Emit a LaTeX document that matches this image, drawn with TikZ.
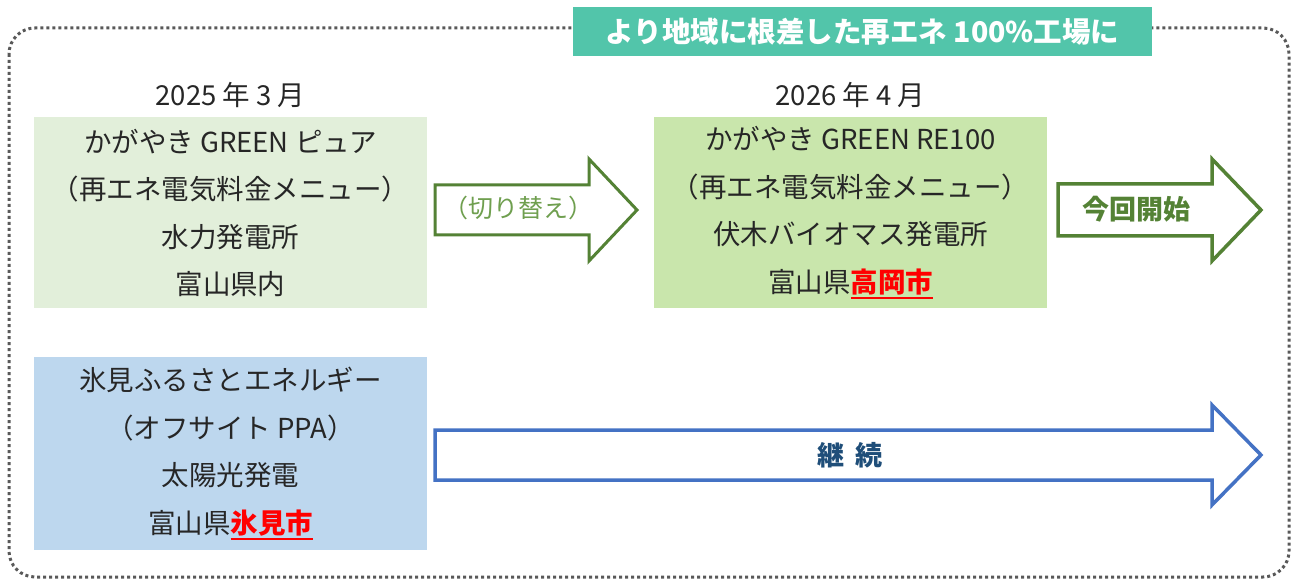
\documentclass[tikz,border=0pt]{standalone}
\usepackage{fontspec}
\setmainfont{Noto Sans CJK JP}
\definecolor{boxA}{HTML}{E2EFDA}
\definecolor{boxB}{HTML}{C9E6AC}
\definecolor{boxC}{HTML}{BDD7EE}
\definecolor{teal}{HTML}{52C5AA}
\definecolor{agreen}{HTML}{548235}
\definecolor{lgreen}{HTML}{6F9F4F}
\definecolor{ablue}{HTML}{4472C4}
\definecolor{dblue}{HTML}{1F4E79}
\definecolor{frame}{HTML}{595959}
\newcommand{\redul}[1]{\textcolor{red}{\bfseries\setbox0\hbox{#1}\rlap{\rule[-7pt]{\wd0}{2.2pt}}\box0}}
\tikzset{
  infobox/.style={inner sep=0pt, align=center, font=\fontsize{27.5}{47.5}\selectfont, text=black!85},
  datelabel/.style={font=\fontsize{27.5}{30}\selectfont, text=black!85},
  arrowtxt/.style={font=\fontsize{27}{30}\selectfont\bfseries},
}
\begin{document}
\begin{tikzpicture}[x=1pt,y=-1pt]
\useasboundingbox (0,0) rectangle (1294,580);
% frame
\draw[frame, line width=3pt, dash pattern=on 3pt off 3pt, rounded corners=26pt] (9,28) rectangle (1289,577);
% title
\node[fill=teal, minimum width=579pt, minimum height=49pt, inner sep=0pt, text=white, font=\fontsize{28.5}{30}\selectfont\bfseries] (title) at (862.5,31.5) {より地域に根差した再エネ 100\%工場に};
% boxes
\fill[boxA] (34,117) rectangle (427,308);
\fill[boxB] (654,117) rectangle (1047,308);
\fill[boxC] (34,357) rectangle (427,550);
\node[datelabel] (d1) at (230.5,95) {2025 年 3 月};
\node[datelabel] (d2) at (850.5,95) {2026 年 4 月};
\node[infobox] (b1) at (230.5,213) {かがやき GREEN ピュア\\（再エネ電気料金メニュー）\\水力発電所\\富山県内};
\node[infobox] (b2) at (850.5,213) {かがやき GREEN RE100\\（再エネ電気料金メニュー）\\伏木バイオマス発電所\\富山県\redul{高岡市}};
\node[infobox] (b3) at (230.5,454) {氷見ふるさとエネルギー\\（オフサイト PPA）\\太陽光発電\\富山県\redul{氷見市}};
% arrows
\draw[agreen, line width=3pt, fill=white, line join=miter] (435,185) -- (589,185) -- (589,159) -- (637,210) -- (589,261) -- (589,235) -- (435,235) -- cycle;
\node[text=lgreen, font=\fontsize{25}{28}\selectfont] (a1) at (518,208) {（切り替え）};
\draw[agreen, line width=3.5pt, fill=white, line join=miter] (1058,184) -- (1212,184) -- (1212,159) -- (1261,210) -- (1212,261) -- (1212,236) -- (1058,236) -- cycle;
\node[arrowtxt, text=agreen] (a2) at (1136,209) {今回開始};
\draw[ablue, line width=3.5pt, fill=white, line join=miter] (435,430) -- (1212,430) -- (1212,405) -- (1261,455) -- (1212,505) -- (1212,480) -- (435,480) -- cycle;
\node[arrowtxt, text=dblue] (a3) at (850,455) {継\hspace{12pt}続};
\end{tikzpicture}
\end{document}
